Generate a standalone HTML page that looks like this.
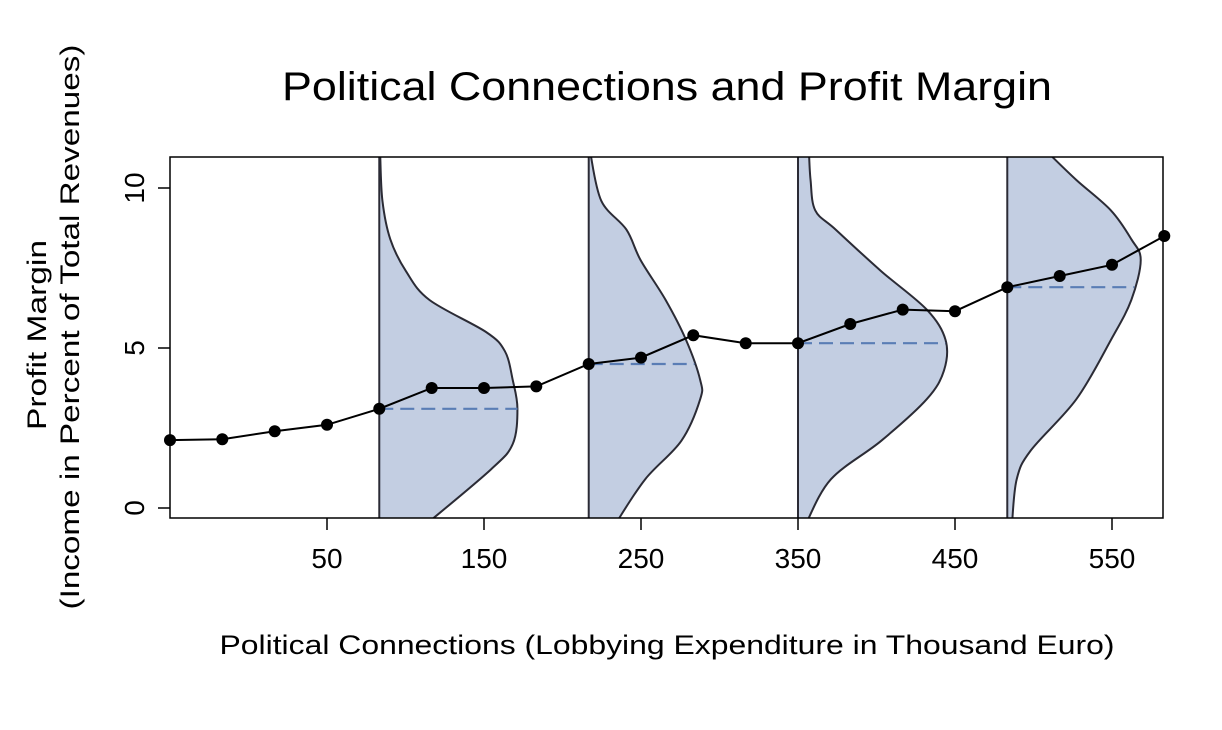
<!DOCTYPE html>
<html><head><meta charset="utf-8"><style>
body{margin:0;background:#fff;}
svg text{font-family:"Liberation Sans",Arial,sans-serif;fill:#000;}
</style></head><body>
<svg id="chart" width="1222" height="725">
<text x="667" y="100" font-size="40" text-anchor="middle" textLength="770" lengthAdjust="spacingAndGlyphs">Political Connections and Profit Margin</text>
<text x="667" y="654" font-size="27" text-anchor="middle" textLength="895" lengthAdjust="spacingAndGlyphs">Political Connections (Lobbying Expenditure in Thousand Euro)</text>
<g>
<text transform="translate(46,335) rotate(-90)" font-size="27" text-anchor="middle" textLength="190" lengthAdjust="spacingAndGlyphs">Profit Margin</text>
<text transform="translate(79,327) rotate(-90)" font-size="27" text-anchor="middle" textLength="565" lengthAdjust="spacingAndGlyphs">(Income in Percent of Total Revenues)</text>
</g>
<defs><clipPath id="pc"><rect x="170" y="157" width="993" height="361"/></clipPath></defs>
<g id="plot" clip-path="url(#pc)"></g>
<g id="axes"></g>
<rect x="170" y="157" width="993" height="361" fill="none" stroke="#000" stroke-width="1.5"/>
</svg>
<script>
const xTicks=[50,150,250,350,450,550];
const yTicks=[0,5,10];
const pointX=[-50,-16.7,16.7,50,83.3,116.7,150,183.3,216.7,250,283.3,316.7,350,383.3,416.7,450,483.3,516.7,550,583.3];
const pointY=[2.12,2.15,2.4,2.6,3.1,3.75,3.75,3.8,4.5,4.7,5.4,5.15,5.15,5.75,6.2,6.15,6.9,7.25,7.6,8.5];
const densBase=[83.3,216.7,350,483.3];
const densMean=[3.1,4.5,5.15,6.9];
const d1y=[-0.5,1.2,2.0,3.1,4.0,4.9,5.5,6.5,7.4,8.4,9.6,11];
const d1w=[30,71,85,88,85,80,68,32,17,7,2,0.6];
const d2y=[-0.5,0.9,2.1,3.4,4.0,5.25,6.5,7.75,8.7,9.6,11.1];
const d2w=[17,36,59,71,71,62,49,33,24,8,1];
const d3y=[-0.5,0.9,2.1,3.4,4.3,5.25,6.2,7.4,8.7,9.3,10.25,11.1];
const d3w=[5,21,53,82,93,94,82,53,24,11,8,7];
const d4y=[-0.5,0.9,1.8,3.4,5.25,6.5,7.75,8.4,9.3,10.25,11.1];
const d4w=[3,6,15,44,66,79,85,79,66,44,26];
const densY=[d1y,d2y,d3y,d4y], densW=[d1w,d2w,d3w,d4w];

const X=v=>248.5+v*1.57;
const Y=v=>508-v*32;
const NS="http://www.w3.org/2000/svg";
const plot=document.getElementById('plot'), axes=document.getElementById('axes');
function mk(tag,attrs,parent){const e=document.createElementNS(NS,tag);for(const k in attrs)e.setAttribute(k,attrs[k]);parent.appendChild(e);return e;}
function smooth(pts){let d=`M${pts[0][0]},${pts[0][1]}`;for(let i=0;i<pts.length-1;i++){const p0=pts[Math.max(0,i-1)],p1=pts[i],p2=pts[i+1],p3=pts[Math.min(pts.length-1,i+2)];d+=` C${p1[0]+(p2[0]-p0[0])/6},${p1[1]+(p2[1]-p0[1])/6} ${p2[0]-(p3[0]-p1[0])/6},${p2[1]-(p3[1]-p1[1])/6} ${p2[0]},${p2[1]}`;}return d;}
function interp(ys,ws,v){for(let i=0;i<ys.length-1;i++){if(v>=ys[i]&&v<=ys[i+1]){const t=(v-ys[i])/(ys[i+1]-ys[i]);return ws[i]+t*(ws[i+1]-ws[i]);}}return 0;}
densBase.forEach((b,k)=>{
  const pts=densY[k].map((y,i)=>[X(b+densW[k][i]),Y(y)]);
  const curve=smooth(pts);
  const bx=X(b);
  const area=mk('path',{d:`M${bx},${Y(densY[k][0])} L${pts[0][0]},${pts[0][1]} `+curve.slice(curve.indexOf('C'))+` L${bx},${Y(densY[k][densY[k].length-1])} Z`,fill:'#c3cee2',stroke:'none'},plot);
  
  
  const edge=mk('path',{d:curve,fill:'none',stroke:'#2b2b35','stroke-width':2},plot);
  
  
  const base=mk('line',{x1:bx,x2:bx,y1:157,y2:518,stroke:'#2b2b35','stroke-width':2},plot);
  
  
  const w=interp(densY[k],densW[k],densMean[k]);
  const m=mk('line',{x1:bx,x2:X(b+w),y1:Y(densMean[k]),y2:Y(densMean[k]),stroke:'#5a7db5','stroke-width':2.2,'stroke-dasharray':'14,7'},plot);
  
  
});
const line=mk('polyline',{points:pointX.map((x,i)=>X(x)+','+Y(pointY[i])).join(' '),fill:'none',stroke:'#000','stroke-width':2},plot);


pointX.forEach((x,i)=>{
  const c=mk('circle',{cx:X(x),cy:Y(pointY[i]),r:6,fill:'#000'},axes);
  
  
});
xTicks.forEach(t=>{
  const l=mk('line',{x1:X(t),x2:X(t),y1:518,y2:530,stroke:'#000','stroke-width':1.5},axes);
  
  
  const tx=mk('text',{x:X(t),y:568,'font-size':28,'text-anchor':'middle'},axes);
  tx.textContent=t;
  
  
});
yTicks.forEach(t=>{
  const l=mk('line',{x1:158,x2:170,y1:Y(t),y2:Y(t),stroke:'#000','stroke-width':1.5},axes);
  
  
  const tx=mk('text',{transform:`translate(144,${Y(t)}) rotate(-90)`,'font-size':28,'text-anchor':'middle'},axes);
  tx.textContent=t;
  
  
});
</script>
</body></html>
